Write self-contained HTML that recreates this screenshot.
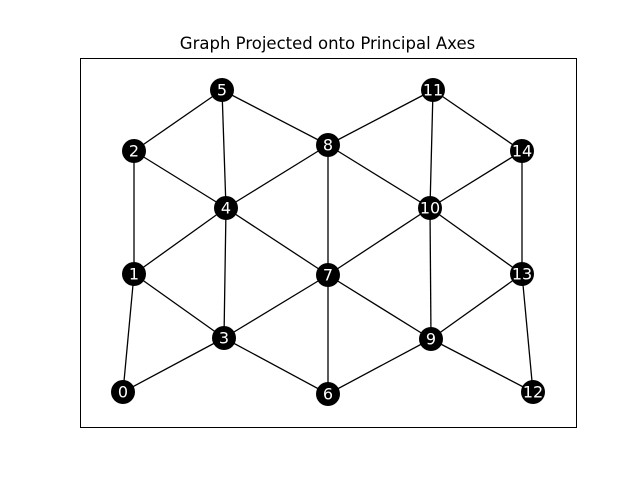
<!DOCTYPE html>
<html><head><meta charset="utf-8"><style>html,body{margin:0;padding:0;background:#fff}svg{display:block}</style></head>
<body>
<svg width="640" height="480" viewBox="0 0 640 480" xmlns="http://www.w3.org/2000/svg">
<rect width="640" height="480" fill="#fff"/>
<text x="327.5" y="49" text-anchor="middle" font-family="DejaVu Sans, sans-serif" font-size="16.5" fill="#000">Graph Projected onto Principal Axes</text>
<rect x="80.5" y="58.5" width="496" height="369" fill="none" stroke="#000" stroke-width="1"/>
<g stroke="#000" stroke-width="1.3">
<line x1="123" y1="392" x2="134" y2="274"/>
<line x1="123" y1="392" x2="224" y2="338"/>
<line x1="134" y1="274" x2="134" y2="151"/>
<line x1="134" y1="274" x2="226" y2="208"/>
<line x1="134" y1="274" x2="224" y2="338"/>
<line x1="134" y1="151" x2="222" y2="90"/>
<line x1="134" y1="151" x2="226" y2="208"/>
<line x1="222" y1="90" x2="226" y2="208"/>
<line x1="222" y1="90" x2="328" y2="145"/>
<line x1="226" y1="208" x2="328" y2="145"/>
<line x1="226" y1="208" x2="328" y2="275"/>
<line x1="226" y1="208" x2="224" y2="338"/>
<line x1="224" y1="338" x2="328" y2="275"/>
<line x1="224" y1="338" x2="328" y2="394"/>
<line x1="328" y1="145" x2="328" y2="275"/>
<line x1="328" y1="145" x2="430" y2="208"/>
<line x1="328" y1="145" x2="433" y2="90"/>
<line x1="328" y1="275" x2="328" y2="394"/>
<line x1="328" y1="275" x2="430" y2="208"/>
<line x1="328" y1="275" x2="431" y2="339"/>
<line x1="328" y1="394" x2="431" y2="339"/>
<line x1="430" y1="208" x2="433" y2="90"/>
<line x1="430" y1="208" x2="522" y2="151"/>
<line x1="430" y1="208" x2="522" y2="274"/>
<line x1="430" y1="208" x2="431" y2="339"/>
<line x1="433" y1="90" x2="522" y2="151"/>
<line x1="522" y1="151" x2="522" y2="274"/>
<line x1="522" y1="274" x2="431" y2="339"/>
<line x1="522" y1="274" x2="533" y2="392"/>
<line x1="431" y1="339" x2="533" y2="392"/>
</g>
<g fill="#000">
<circle cx="123" cy="392" r="12"/><circle cx="134" cy="274" r="12"/><circle cx="134" cy="151" r="12"/>
<circle cx="224" cy="338" r="12"/><circle cx="226" cy="208" r="12"/><circle cx="222" cy="90" r="12"/>
<circle cx="328" cy="394" r="12"/><circle cx="328" cy="275" r="12"/><circle cx="328" cy="145" r="12"/>
<circle cx="431" cy="339" r="12"/><circle cx="430" cy="208" r="12"/><circle cx="433" cy="90" r="12"/>
<circle cx="533" cy="392" r="12"/><circle cx="522" cy="274" r="12"/><circle cx="522" cy="151" r="12"/>
</g>
<g fill="#fff" font-family="DejaVu Sans, sans-serif" font-size="16" text-anchor="middle" dominant-baseline="central">
<text x="123" y="392">0</text><text x="134" y="274">1</text><text x="134" y="151">2</text>
<text x="224" y="338">3</text><text x="226" y="208">4</text><text x="222" y="90">5</text>
<text x="328" y="394">6</text><text x="328" y="275">7</text><text x="328" y="145">8</text>
<text x="431" y="339">9</text><text x="430" y="208">10</text><text x="433" y="90">11</text>
<text x="533" y="392">12</text><text x="522" y="274">13</text><text x="522" y="151">14</text>
</g>
</svg>
</body></html>
